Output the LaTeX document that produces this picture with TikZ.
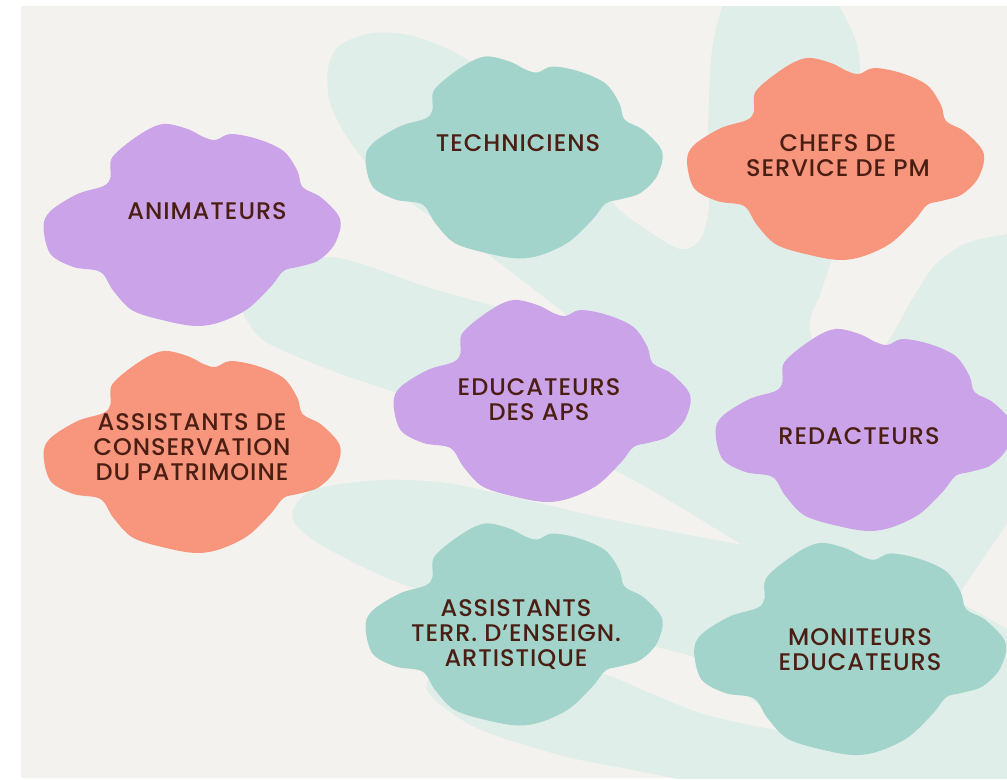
\documentclass[tikz,border=0pt]{standalone}
\usepackage{fontspec}
\setmainfont{Poppins}[UprightFont=* Medium, LetterSpace=4]

\definecolor{paper}{HTML}{F4F2EE}
\definecolor{mist}{HTML}{E0EEE9}
\definecolor{mint}{HTML}{A2D4CB}
\definecolor{lilac}{HTML}{CBA3E8}
\definecolor{coral}{HTML}{F7967D}
\definecolor{ink}{HTML}{4B1E14}

\begin{document}
\begin{tikzpicture}[
		x=0.03cm, y=-0.03cm,
		every node/.style = {
			text=ink, align=center,
			font=\fontsize{20.5}{21.3}\selectfont,
			inner sep=0pt, outer sep=0pt
		},
		pics/blob/.style = {
			code = {
				\fill[#1] plot[smooth cycle, tension=0.55] coordinates {
					(-81,-48) (-79,-68) (-51,-91) (-28,-101) (-4,-96) (12,-88)
					(24,-85) (39,-91) (66,-86) (92,-74) (106,-54) (111,-38)
					(129,-28) (146,-11) (149,2) (142,21) (126,36) (106,42)
					(92,46) (79,62) (56,84) (29,97) (6,101) (-21,97) (-58,86)
					(-78,66) (-91,47) (-118,42) (-141,29) (-148,2) (-141,-14)
					(-114,-31) (-88,-39)};
			}
		}
	]
	\fill[white] (0,0) rectangle (1007,779);
	\useasboundingbox (0,0) rectangle (1007,779);
	\fill[paper] (21,6) rectangle (1007,778);

	\begin{scope}
		\clip (21,6) rectangle (1007,778);
		% pale hand behind the clouds
		\fill[mist]
			plot[smooth] coordinates {(240,307) (258,280) (330,257) (430,288) (497,307) (590,335)}
			-- plot[smooth] coordinates {(590,335) (563,312) (497,261) (463,237) (417,207) (373,170)
				(347,137) (330,103) (328,68) (340,45) (373,33) (413,36) (463,57) (540,112) (613,203)
				(650,232) (680,249) (700,240) (709,205) (708,130) (712,50) (724,0) (730,-10)}
			-- (830,-10)
			-- plot[smooth] coordinates {(830,-10) (853,33) (860,70) (855,150) (843,220) (832,258)
				(820,295) (810,330) (835,415)}
			-- plot[smooth] coordinates {(835,415) (887,343) (910,303) (935,265) (967,243) (1007,234) (1020,233)}
			-- (1020,504) -- (955,600) -- (1020,636) -- (1020,790) -- (730,790)
			-- plot[smooth] coordinates {(730,790) (633,770) (567,757) (500,737) (467,723) (435,700)
				(427,683) (455,660) (530,662) (600,673) (650,693) (700,713) (750,725) (795,733)}
			-- plot[smooth] coordinates {(795,733) (740,690) (697,659) (657,647) (560,622) (430,592)
				(380,575) (313,540) (292,515) (313,490) (380,480) (447,483) (513,497) (613,520) (742,545)}
			-- plot[smooth] coordinates {(742,545) (660,495) (597,463) (480,425) (397,393) (330,370)
				(263,340) (240,307)}
			-- cycle;

		\pic at (513.5,157.5) {blob=mint};
		\pic at (835,159) {blob=coral};
		\pic at (191.5,225) {blob=lilac};
		\pic at (191.5,452) {blob=coral};
		\pic at (541.5,401) {blob=lilac};
		\pic at (863.5,430) {blob=lilac};
		\pic at (513.5,624.5) {blob=mint};
		\pic[scale=1.05] at (849.5,649) {blob=mint};
	\end{scope}

	\node (tech) at (518,143.5) {TECHNICIENS};
	\node (chefs) at (838,156) {CHEFS DE\\SERVICE DE PM};
	\node (anim) at (207,211) {ANIMATEURS};
	\node (patri) at (192,447) {ASSISTANTS DE\\CONSERVATION\\DU PATRIMOINE};
	\node (aps) at (539,400) {EDUCATEURS\\DES APS};
	\node (redac) at (859,436) {REDACTEURS};
	\node (ensei) at (516,635) {ASSISTANTS\\TERR. D’ENSEIGN.\\ARTISTIQUE};
	\node (monit) at (860,650) {MONITEURS\\EDUCATEURS};
\end{tikzpicture}
\end{document}
